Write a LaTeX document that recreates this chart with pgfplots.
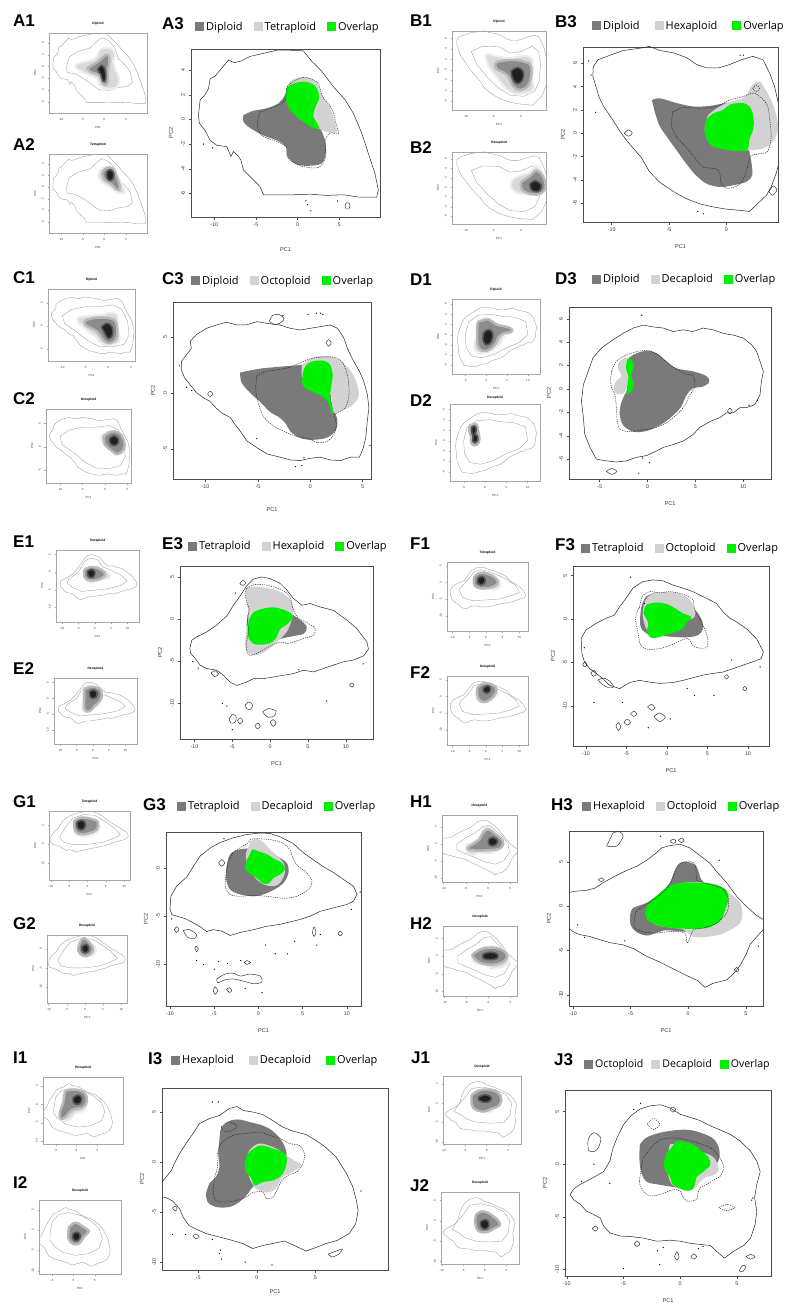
\documentclass[border=0pt]{standalone}
\usepackage{fontspec}
\setmainfont{Liberation Sans}
\newfontfamily\legfont{Open Sans}
\usepackage{pgfplots}
\usepackage{pgfplotstable}
\pgfplotsset{compat=1.18}
\definecolor{dk}{RGB}{122,122,122}
\definecolor{lt}{RGB}{210,210,210}
\definecolor{ov}{RGB}{0,240,0}
\tikzset{lab/.style={anchor=west, inner sep=0pt, font=\fontsize{17}{18}\selectfont\bfseries}}
\pgfplotsset{
  base/.style={scale only axis, anchor=north west, clip=true,
    /pgf/number format/assume math mode=true,
    tick align=outside, tick pos=left,
    yticklabel style={rotate=90, anchor=south},
    xlabel={PC1}, ylabel={PC2},
    xlabel style={at={(axis description cs:0.5,0)}, anchor=center},
    ylabel style={at={(axis description cs:0,0.5)}, anchor=center},
  },
  bigax/.style={base, axis line style={black!70, line width=0.6pt}, tick style={black!70, line width=0.4pt}, major tick length=2.5pt,
    tick label style={font=\fontsize{5.3}{6}\selectfont, black!80},
    label style={font=\fontsize{5.6}{6}\selectfont, black!80},
    ylabel style={yshift=20pt},
    legend columns=3, legend cell align=left,
    legend style={draw=none, fill=none, inner sep=0pt, font=\legfont\fontsize{11}{13}\selectfont, anchor=west, at={(axis description cs:0,1)}, /tikz/every even column/.append style={column sep=9pt}},
    legend image code/.code={\fill[##1] (0pt,-4.5pt) rectangle (9pt,4.5pt);},
  },
  smallax/.style={base, axis line style={black!35, line width=0.4pt}, tick style={black!35, line width=0.3pt}, major tick length=1.5pt,
    tick label style={font=\fontsize{3}{3.5}\selectfont, black!75},
    label style={font=\fontsize{3}{3.5}\selectfont, black!80},
    title style={font=\bfseries\fontsize{3.3}{4}\selectfont, yshift=-2pt},
    xlabel style={yshift=-14pt}, ylabel style={yshift=14pt},
  },
  outl/.style={draw=black!85, line width=0.5pt, forget plot},
  isl/.style={draw=black!85, line width=0.45pt, smooth, forget plot},
  dsh/.style={draw=black!85, line width=0.45pt, dash pattern=on 1.3pt off 1pt, smooth, forget plot},
  pts/.style={only marks, mark=*, mark size=0.35pt, black, forget plot},
  rdk/.style={fill=dk, draw=none, smooth, tension=0.55},
  rlt/.style={fill=lt, draw=none, smooth, tension=0.55},
  rov/.style={fill=ov, draw=none, smooth, tension=0.55},
  souter/.style={draw=black!35, line width=0.4pt},
  bl1/.style={fill=black!15, draw=black!7, line width=2pt, smooth, tension=0.6},
  bl2/.style={fill=black!45, draw=black!28, line width=2.4pt, smooth, tension=0.7},
  bl3/.style={fill=black!88, draw=black!66, line width=1.6pt, smooth, tension=0.7},
  rngA/.style={xmin=-12.8,xmax=9.9,ymin=-7.9,ymax=5.7,xtick={-10,-5,0,5},ytick={-6,-4,-2,0,2,4}},
  rngB/.style={xmin=-12.5,xmax=4.5,ymin=-7.6,ymax=7.4,xtick={-10,-5,0},ytick={-6,-4,-2,0,2,4,6}},
  rngC/.style={xmin=-13.1,xmax=5.8,ymin=-7.7,ymax=8.1,xtick={-10,-5,0,5},ytick={-5,0,5}},
  rngD/.style={xmin=-8.2,xmax=12.9,ymin=-7.7,ymax=7.0,xtick={-5,0,5,10},ytick={-6,-4,-2,0,2,4,6}},
  rngE/.style={xmin=-11.9,xmax=13.6,ymin=-14.2,ymax=6.3,xtick={-10,-5,0,5,10},ytick={-10,-5,0,5}},
  rngF/.style={xmin=-11.6,xmax=12.6,ymin=-14.6,ymax=6.1,xtick={-10,-5,0,5,10},ytick={-10,-5,0,5}},
  rngG/.style={xmin=-10.45,xmax=11.6,ymin=-14.3,ymax=3.7,xtick={-10,-5,0,5,10},ytick={-10,-5,0}},
  rngH/.style={xmin=-10.35,xmax=6.5,ymin=-11.25,ymax=8.5,xtick={-10,-5,0,5},ytick={-10,-5,0,5}},
  rngI/.style={xmin=-8.1,xmax=11.2,ymin=-10.8,ymax=7.4,xtick={-5,0,5},ytick={-10,-5,0,5}},
  rngJ/.style={xmin=-10.15,xmax=8.0,ymin=-10.6,ymax=7.05,xtick={-10,-5,0,5},ytick={-10,-5,0,5}},
}
% ---------------- tables: outer contour (o), inner contour (i), region 1 (d), region 2 (l)
\pgfplotstableread[row sep=\\]{x y\\ -11.9 0.35\\ -11.7 1.6\\ -11.2 1.9\\ -10.7 2.5\\ -10.5 3.3\\ -9.9 3.5\\ -9.3 4.0\\ -8.3 4.8\\ -7.6 4.6\\ -6.9 4.7\\ -5.7 5.1\\ -4.1 5.35\\ -2.5 5.6\\ -0.9 5.6\\ 0.7 5.55\\ 1.7 4.7\\ 2.9 3.9\\ 4.3 2.65\\ 5.7 1.6\\ 6.7 0.5\\ 7.7 -1.1\\ 8.5 -2.75\\ 9.3 -4.4\\ 9.7 -5.7\\ 9.5 -6.3\\ 7.5 -6.3\\ 5.5 -6.1\\ 3.5 -6.15\\ 1.5 -6.05\\ -0.5 -6.1\\ -2.5 -6.1\\ -4.1 -6.1\\ -4.5 -5.45\\ -5.3 -4.9\\ -6.5 -4.1\\ -6.8 -3.3\\ -7.1 -3.0\\ -7.7 -2.6\\ -8.0 -3.0\\ -8.5 -2.2\\ -9.7 -2.1\\ -10.5 -1.7\\ -11.1 -0.9\\ -11.8 -0.3\\ -11.9 0.35\\}\oA
\pgfplotstableread[row sep=\\]{x y\\ -8.9 -0.4\\ -8.1 1.65\\ -6.1 2.55\\ -3.25 3.15\\ -1.2 4.6\\ -0.4 4.9\\ 1.2 4.3\\ 2.45 3.15\\ 3.25 1.35\\ 4.9 0.2\\ 6.1 -1.0\\ 6.5 -2.75\\ 5.3 -3.35\\ 2.85 -3.65\\ 1.2 -4.05\\ -1.2 -3.95\\ -2.85 -3.05\\ -4.45 -2.2\\ -6.5 -1.3\\ -8.5 -1.0\\ -8.9 -0.4\\}\iA
\pgfplotstableread[row sep=\\]{x y\\ -6.5 0.35\\ -5.3 0.7\\ -3.7 0.9\\ -2.3 1.3\\ -1.5 2.0\\ -1.1 2.8\\ 0.3 3.2\\ 1.9 2.9\\ 2.5 1.85\\ 2.1 1.0\\ 2.3 0.1\\ 2.8 -0.8\\ 3.3 -1.7\\ 3.4 -2.75\\ 2.9 -3.55\\ 1.5 -3.75\\ -0.1 -3.65\\ -1.2 -3.0\\ -1.4 -2.2\\ -2.5 -1.7\\ -4.1 -1.3\\ -5.7 -0.7\\ -6.5 -0.2\\ -6.5 0.35\\}\dA
\pgfplotstableread[row sep=\\]{x y\\ -1.4 1.85\\ -0.9 3.05\\ 0.7 3.45\\ 2.3 3.0\\ 2.9 2.0\\ 3.9 1.0\\ 4.4 -0.05\\ 4.7 -1.0\\ 3.7 -1.05\\ 2.6 -0.75\\ 1.7 -0.2\\ 0.5 0.35\\ -0.7 0.9\\ -1.4 1.85\\}\lA
%
\pgfplotstableread[row sep=\\]{x y\\ -11.6 5.7\\ -11.2 6.3\\ -10.4 6.6\\ -9.0 7.1\\ -7.5 7.3\\ -6.7 7.45\\ -5.8 7.1\\ -4.6 6.9\\ -3.5 6.5\\ -2.6 5.9\\ -1.7 5.6\\ -0.7 5.6\\ 0.3 5.9\\ 1.3 6.3\\ 2.3 6.6\\ 3.2 6.3\\ 3.8 5.1\\ 4.2 4.0\\ 4.6 2.3\\ 4.9 -1.4\\ 4.35 -3.4\\ 3.9 -4.6\\ 3.5 -5.3\\ 2.75 -6.0\\ 2.0 -6.7\\ 1.2 -6.6\\ 0 -6.5\\ -1.2 -6.3\\ -2.3 -6.05\\ -3.5 -5.6\\ -4.6 -5.0\\ -5.8 -4.2\\ -6.7 -3.3\\ -7.4 -2.1\\ -8.1 -1.3\\ -8.7 -0.6\\ -9.3 0.2\\ -10.0 1.3\\ -10.7 2.3\\ -11.1 3.1\\ -11.4 4.1\\ -11.65 4.9\\ -11.6 5.7\\}\oB
\pgfplotstableread[row sep=\\]{x y\\ -9 3.5\\ -7 4.5\\ -4 4.4\\ -2 3.2\\ 0 3.5\\ 2 4.5\\ 3.2 3.5\\ 3.5 1\\ 3.3 -2\\ 2.5 -4\\ 0.5 -5\\ -2 -4.8\\ -4 -3.5\\ -6 -1.5\\ -8 1\\ -9 3.5\\}\iB
\pgfplotstableread[row sep=\\]{x y\\ -6.5 2.85\\ -5.8 3.0\\ -4.35 2.6\\ -2.9 2.3\\ -1.45 2.35\\ 0 2.6\\ 1.15 2.6\\ 2.0 2.0\\ 2.2 0\\ 2.0 -1.4\\ 2.2 -2.6\\ 2.25 -3.6\\ 1.75 -4.15\\ 0.6 -4.45\\ -0.6 -4.6\\ -1.75 -4.3\\ -2.75 -3.5\\ -3.5 -2.6\\ -4.2 -1.65\\ -5.0 -0.55\\ -5.8 0.6\\ -6.2 1.7\\ -6.5 2.85\\}\dB
\pgfplotstableread[row sep=\\]{x y\\ -1.6 1.55\\ -0.85 2.15\\ 0.3 2.7\\ 1.45 3.0\\ 1.9 3.55\\ 2.3 4.2\\ 2.9 4.45\\ 3.35 3.85\\ 3.9 2.85\\ 4.35 1.55\\ 4.5 0.3\\ 4.05 -0.7\\ 3.2 -1.3\\ 2.0 -1.45\\ 0.85 -1.45\\ -0.6 -1.15\\ -1.45 -0.55\\ -1.9 0.3\\ -1.6 1.55\\}\lB
%
\pgfplotstableread[row sep=\\]{x y\\ -12.3 2.8\\ -11.8 3.4\\ -11.35 3.95\\ -11.45 4.6\\ -10.85 5.2\\ -9.9 5.75\\ -8.95 6.05\\ -8.0 6.3\\ -7.0 6.05\\ -6.1 6.05\\ -5.1 6.35\\ -4.15 6.2\\ -2.9 6.05\\ -1.9 5.75\\ -0.95 5.6\\ 0 5.75\\ 0.95 5.9\\ 1.9 6.05\\ 2.6 5.75\\ 3.2 4.9\\ 3.6 3.85\\ 4.15 2.8\\ 4.7 1.9\\ 5.1 1.05\\ 5.45 -0.15\\ 5.6 -1.35\\ 5.45 -2.5\\ 5.3 -4.0\\ 5.05 -4.95\\ 4.7 -5.75\\ 3.85 -5.75\\ 2.9 -6.05\\ 1.9 -6.0\\ 0.95 -5.75\\ 0 -5.85\\ -0.95 -6.05\\ -1.9 -6.0\\ -2.9 -5.75\\ -4.15 -5.45\\ -5.1 -4.9\\ -6.05 -4.3\\ -6.7 -3.4\\ -7.2 -2.8\\ -7.65 -2.2\\ -8.45 -1.8\\ -9.0 -1.35\\ -9.6 -0.75\\ -10.2 -0.45\\ -10.85 0\\ -11.5 0.75\\ -12.0 1.35\\ -12.3 2.05\\ -12.3 2.8\\}\oC
\pgfplotstableread[row sep=\\]{x y\\ -10 2.2\\ -8 3.6\\ -5 4.2\\ -2 4.2\\ 1 4.6\\ 3 3.6\\ 4.2 1\\ 4.5 -2\\ 3.5 -4\\ 1 -4.6\\ -2 -4.5\\ -4.5 -3.2\\ -7 -1.2\\ -9.5 0.5\\ -10 2.2\\}\iC
\pgfplotstableread[row sep=\\]{x y\\ -6.7 1.8\\ -4.8 2.15\\ -2.55 2.35\\ -0.8 2.5\\ 0 2.8\\ 0.95 2.85\\ 1.9 2.5\\ 2.15 1.6\\ 2.0 0.45\\ 2.0 -0.75\\ 2.3 -1.6\\ 2.6 -2.5\\ 2.4 -3.4\\ 1.6 -4.0\\ 0.3 -4.2\\ -0.95 -4.05\\ -1.9 -3.45\\ -2.3 -2.8\\ -2.95 -2.2\\ -3.85 -1.7\\ -4.8 -0.8\\ -5.75 0\\ -6.55 0.9\\ -6.7 1.8\\}\dC
\pgfplotstableread[row sep=\\]{x y\\ -0.8 2.5\\ 0.15 3.1\\ 1.45 3.3\\ 2.7 2.95\\ 3.65 2.2\\ 4.3 1.2\\ 4.65 0\\ 4.4 -0.75\\ 3.65 -1.35\\ 2.7 -1.7\\ 2.25 -1.8\\ 2.1 -1.05\\ 1.9 -0.15\\ 0.65 0\\ -0.3 0.6\\ -0.8 1.5\\ -0.8 2.5\\}\lC
%
\pgfplotstableread[row sep=\\]{x y\\ -6.7 -2.45\\ -6.9 -1.05\\ -6.7 0.35\\ -6.2 1.5\\ -5.7 2.65\\ -4.8 3.5\\ -3.6 4.2\\ -2.55 4.75\\ -1.5 5.2\\ -0.45 5.45\\ 0.6 5.3\\ 1.65 5.2\\ 2.7 4.9\\ 3.75 5.05\\ 4.75 4.9\\ 5.8 5.2\\ 6.85 5.05\\ 7.9 4.75\\ 8.95 4.6\\ 10.0 4.35\\ 10.9 3.75\\ 11.4 3.2\\ 11.75 2.35\\ 12.1 1.5\\ 11.9 0.65\\ 11.75 -0.5\\ 11.2 -1.35\\ 10.35 -1.6\\ 9.65 -1.6\\ 8.95 -2.05\\ 8.25 -2.05\\ 7.55 -2.45\\ 6.5 -2.8\\ 5.45 -3.3\\ 4.75 -3.9\\ 3.75 -4.45\\ 2.7 -4.75\\ 1.65 -5.0\\ 0.95 -5.3\\ -0.1 -5.7\\ -1.15 -5.85\\ -2.2 -6.15\\ -3.25 -6.25\\ -4.3 -6.15\\ -5.35 -6.0\\ -6.0 -5.0\\ -6.55 -3.9\\ -6.7 -2.45\\}\oD
\pgfplotstableread[row sep=\\]{x y\\ -5 0\\ -4.2 2.5\\ -2 3.8\\ 1 4\\ 4 3.6\\ 7 3.4\\ 9.5 2.6\\ 10 0\\ 8 -1.5\\ 5 -2.5\\ 2 -3.8\\ -1 -4.5\\ -3.5 -4.2\\ -4.8 -2.5\\ -5 0\\}\iD
\pgfplotstableread[row sep=\\]{x y\\ -2.2 2.5\\ -1.5 2.9\\ -0.8 3.15\\ 0.05 3.25\\ 0.95 3.05\\ 2.0 2.35\\ 3.05 1.75\\ 4.75 1.5\\ 6.15 1.1\\ 6.45 0.6\\ 5.8 0.2\\ 4.75 0.05\\ 4.1 -0.5\\ 3.45 -1.6\\ 2.35 -2.5\\ 1.3 -3.1\\ -0.1 -3.6\\ -1.5 -3.65\\ -2.55 -3.1\\ -2.9 -2.2\\ -2.8 -1.35\\ -2.45 -0.6\\ -2.0 0.1\\ -2.0 0.95\\ -2.25 1.8\\ -2.2 2.5\\}\dD
\pgfplotstableread[row sep=\\]{x y\\ -2.7 2.5\\ -2.0 2.65\\ -1.8 1.8\\ -1.9 0.95\\ -2.2 0.1\\ -2.55 -0.4\\ -3.3 -0.4\\ -3.5 0.1\\ -3.3 0.65\\ -2.7 1.1\\ -3.05 1.65\\ -3.05 2.2\\ -2.7 2.5\\}\lD
%
\pgfplotstableread[row sep=\\]{x y\\ -10.6 -3.5\\ -10.35 -2.5\\ -9.7 -2.1\\ -8.35 -1.5\\ -7.05 -0.7\\ -5.7 0.4\\ -4.85 1.65\\ -3.95 2.75\\ -3.1 3.95\\ -2.2 4.75\\ -1.1 5.0\\ 0 4.8\\ 1.3 4.25\\ 2.2 3.45\\ 3.1 2.45\\ 4.2 1.65\\ 5.3 1.85\\ 6.6 1.45\\ 8.35 1.05\\ 10.15 -0.1\\ 11.45 -1.1\\ 12.8 -2.7\\ 13.0 -3.55\\ 12.35 -4.35\\ 11.0 -4.85\\ 9.7 -5.05\\ 8.35 -5.45\\ 7.05 -5.85\\ 5.75 -6.25\\ 4.4 -6.05\\ 3.1 -6.45\\ 1.75 -6.65\\ 0.45 -6.85\\ -0.9 -7.05\\ -2.2 -7.05\\ -3.1 -7.45\\ -4.4 -7.85\\ -5.3 -7.45\\ -6.15 -6.65\\ -7.05 -6.05\\ -8.35 -5.85\\ -9.25 -5.45\\ -9.9 -4.65\\ -10.5 -4.05\\ -10.6 -3.5\\}\oE
\pgfplotstableread[row sep=\\]{x y\\ -8 -2\\ -5 0\\ -3.2 3\\ -1.5 4\\ 0.8 3.6\\ 2.5 1.5\\ 5 0.5\\ 8 -0.8\\ 10 -2.5\\ 8 -3.8\\ 5 -4.5\\ 2 -5\\ -1 -5.2\\ -4 -5.5\\ -6.5 -4.5\\ -8.5 -3.2\\ -8 -2\\}\iE
\pgfplotstableread[row sep=\\]{x y\\ -2.85 0.85\\ -1.75 1.35\\ 0 1.45\\ 1.75 1.2\\ 3.1 0.45\\ 4.2 -0.25\\ 4.85 -0.9\\ 4.5 -1.7\\ 3.1 -2.0\\ 1.3 -2.35\\ -0.45 -2.9\\ -2.0 -2.9\\ -2.85 -2.1\\ -3.1 -0.7\\ -2.85 0.85\\}\dE
\pgfplotstableread[row sep=\\]{x y\\ -3.1 3.65\\ -2.2 3.85\\ -0.45 3.7\\ 1.3 3.25\\ 2.65 2.35\\ 3.1 1.2\\ 2.85 -0.1\\ 2.2 -1.5\\ 0.9 -2.7\\ -0.45 -3.7\\ -1.75 -4.25\\ -2.85 -4.05\\ -3.3 -3.1\\ -3.15 -1.5\\ -2.85 0.1\\ -3.0 1.65\\ -3.25 3.05\\ -3.1 3.65\\}\lE
%
\pgfplotstableread[row sep=\\]{x y\\ -10.6 -2.25\\ -10.0 -1.25\\ -8.75 -0.5\\ -7.5 0.1\\ -6.5 0.45\\ -5.85 1.4\\ -5.05 2.4\\ -4.2 3.55\\ -3.0 4.3\\ -1.75 4.5\\ -0.5 4.4\\ 0.75 3.9\\ 2.0 3.55\\ 3.2 3.15\\ 4.85 2.4\\ 6.1 1.8\\ 6.9 0.85\\ 7.75 0.1\\ 8.55 -0.3\\ 9.8 -1.1\\ 11.05 -2.25\\ 11.9 -3.75\\ 11.65 -4.55\\ 10.65 -4.9\\ 9.4 -5.3\\ 8.15 -5.7\\ 6.9 -6.1\\ 5.7 -6.25\\ 4.45 -6.45\\ 3.2 -6.75\\ 2.0 -7.05\\ 0.75 -7.3\\ -0.9 -7.4\\ -2.15 -7.25\\ -3.4 -7.05\\ -4.6 -7.3\\ -5.85 -8.0\\ -7.1 -7.6\\ -7.9 -6.85\\ -8.75 -6.25\\ -9.55 -5.7\\ -10.2 -4.9\\ -10.5 -3.95\\ -10.6 -2.25\\}\oF
\pgfplotstableread[row sep=\\]{x y\\ -8 -2\\ -5.5 0.5\\ -3.5 3.2\\ -1.5 3.8\\ 1 3.2\\ 3.5 2.2\\ 6 1\\ 9 -1\\ 10 -3\\ 7 -4.2\\ 4 -5\\ 0 -5.3\\ -4 -5.5\\ -7 -4.5\\ -8 -2\\}\iF
\pgfplotstableread[row sep=\\]{x y\\ -3.2 1.25\\ -2.55 2.6\\ -0.9 3.05\\ 1.15 2.85\\ 2.4 2.1\\ 3.4 1.15\\ 4.25 0\\ 4.45 -1.1\\ 3.85 -1.85\\ 2.4 -2.1\\ 0.75 -2.05\\ -0.9 -1.9\\ -2.55 -1.65\\ -3.3 -0.7\\ -3.2 1.25\\}\dF
\pgfplotstableread[row sep=\\]{x y\\ -2.75 2.0\\ -2.15 2.7\\ -0.9 3.1\\ 1.15 3.0\\ 2.6 2.4\\ 3.4 1.3\\ 3.4 0.25\\ 2.4 -0.2\\ 1.5 -0.9\\ 0 -1.4\\ -1.5 -1.6\\ -2.5 -1.2\\ -3.0 0.5\\ -2.75 2.0\\}\lF
%
\pgfplotstableread[row sep=\\]{x y\\ -10.0 -4.25\\ -9.9 -2.95\\ -9.25 -1.9\\ -8.1 -0.95\\ -7.35 0.15\\ -6.6 1.2\\ -5.45 2.05\\ -4.35 2.6\\ -2.85 3.1\\ -1.3 3.45\\ 0.2 3.6\\ 1.3 3.55\\ 2.45 3.2\\ 3.95 2.5\\ 5.1 1.55\\ 6.25 0.8\\ 7.35 0.1\\ 8.5 -0.5\\ 9.6 -1.2\\ 10.75 -1.9\\ 11.15 -2.75\\ 10.75 -3.45\\ 10.0 -3.8\\ 8.5 -4.15\\ 7.0 -4.5\\ 5.85 -5.0\\ 4.7 -5.35\\ 3.6 -5.6\\ 2.45 -5.85\\ 0.95 -6.05\\ -0.55 -6.4\\ -2.1 -6.7\\ -3.2 -7.0\\ -4.15 -6.55\\ -5.1 -6.4\\ -5.85 -6.6\\ -6.6 -6.1\\ -7.35 -5.7\\ -8.3 -5.25\\ -9.25 -5.0\\ -9.8 -4.85\\ -10.0 -4.25\\}\oG
\pgfplotstableread[row sep=\\]{x y\\ -7.5 -3\\ -6 -0.5\\ -4 1.8\\ -1 2.8\\ 2 2.6\\ 4.5 1.2\\ 7 -0.5\\ 9 -2.5\\ 7 -3.5\\ 4 -4.5\\ 0 -5\\ -4 -5\\ -6.5 -4.5\\ -7.5 -3\\}\iG
\pgfplotstableread[row sep=\\]{x y\\ -3.6 0.15\\ -3.2 1.4\\ -2.1 1.9\\ -0.55 2.0\\ 0.95 1.8\\ 2.1 1.2\\ 3.2 0.5\\ 3.4 -0.5\\ 2.85 -1.55\\ 1.7 -2.3\\ 0.55 -2.75\\ -0.55 -2.95\\ -2.1 -2.75\\ -3.2 -2.25\\ -3.65 -1.2\\ -3.6 0.15\\}\dG
\pgfplotstableread[row sep=\\]{x y\\ -1.15 2.05\\ -0.85 2.75\\ -0.2 3.0\\ 0.55 2.65\\ 1.3 1.9\\ 2.15 1.2\\ 2.85 0.5\\ 3.0 -0.5\\ 2.45 -1.55\\ 1.7 -1.9\\ 0.55 -1.7\\ -0.55 -0.85\\ -1.3 0.5\\ -1.4 1.55\\ -1.15 2.05\\}\lG
%
\pgfplotstableread[row sep=\\]{x y\\ -10.6 1.5\\ -9.85 1.7\\ -8.85 1.8\\ -8.1 2.05\\ -7.4 2.65\\ -6.5 3.3\\ -5.35 4.05\\ -4.5 4.5\\ -3.6 5.2\\ -2.75 6.05\\ -2.3 6.6\\ -1.6 6.85\\ -0.7 7.0\\ 0.15 6.6\\ 0.7 6.05\\ 1.3 5.45\\ 1.9 4.85\\ 2.45 3.95\\ 3.35 2.65\\ 4.2 1.15\\ 5.05 0\\ 5.95 -1.05\\ 6.8 -1.7\\ 6.5 -2.65\\ 5.95 -3.45\\ 5.4 -4.25\\ 5.05 -5.35\\ 4.55 -6.6\\ 3.95 -7.6\\ 3.35 -8.3\\ 2.15 -8.7\\ 1.45 -9.15\\ 0.85 -8.4\\ -0.15 -7.8\\ -1.3 -7.05\\ -2.45 -6.3\\ -3.6 -5.65\\ -4.7 -4.8\\ -5.65 -4.35\\ -6.8 -4.1\\ -7.7 -3.75\\ -8.55 -3.4\\ -9.4 -3.2\\ -10.0 -2.85\\ -10.6 -2.25\\}\oH
\pgfplotstableread[row sep=\\]{x y\\ -7 0\\ -5 1.8\\ -3 3.2\\ -1 5.2\\ 0.5 5.5\\ 1.5 4\\ 3 2.5\\ 4.5 0\\ 4.8 -2.5\\ 3.5 -5\\ 1.5 -6\\ -1 -5.2\\ -3 -4\\ -5 -3\\ -7 -1.8\\ -7 0\\}\iH
\pgfplotstableread[row sep=\\]{x y\\ -5.05 -1.15\\ -4.8 -0.2\\ -3.6 0.4\\ -2.45 1.5\\ -1.6 2.65\\ -1.15 4.1\\ -0.7 4.9\\ 0 5.0\\ 0.7 4.55\\ 1.15 3.0\\ 1.75 2.25\\ 2.3 1.5\\ 3.05 1.05\\ 3.35 0.3\\ 3.05 -0.75\\ 2.15 -1.9\\ 1.0 -2.65\\ -0.45 -2.85\\ -1.9 -2.7\\ -2.75 -3.0\\ -3.6 -3.3\\ -4.5 -2.9\\ -5.0 -2.1\\ -5.05 -1.15\\}\dH
\pgfplotstableread[row sep=\\]{x y\\ -3.6 -0.4\\ -2.75 1.15\\ -1.6 2.25\\ -0.15 2.7\\ 1.6 2.7\\ 2.9 2.25\\ 3.6 1.5\\ 4.5 0.4\\ 4.7 -0.75\\ 4.5 -1.9\\ 3.6 -2.7\\ 2.75 -3.2\\ 1.6 -3.45\\ 0.45 -3.45\\ -0.45 -2.6\\ -1.6 -2.4\\ -2.75 -2.1\\ -3.55 -1.4\\ -3.6 -0.4\\}\lH
%
\pgfplotstableread[row sep=\\]{x y\\ -8.3 -2.3\\ -7.75 -1.5\\ -7.3 -0.85\\ -7.05 -0.15\\ -6.6 0.85\\ -6.05 1.85\\ -5.45 2.85\\ -4.9 3.85\\ -4.05 4.35\\ -3.2 4.65\\ -2.35 5.35\\ -1.7 5.55\\ -1.15 5.15\\ -0.35 5.0\\ 0.5 4.75\\ 1.35 4.15\\ 2.2 3.5\\ 3.05 3.1\\ 4.2 2.75\\ 5.05 2.15\\ 5.9 1.45\\ 6.8 0.45\\ 7.65 -1.15\\ 8.2 -2.5\\ 8.5 -3.85\\ 8.65 -4.85\\ 8.45 -6.15\\ 7.9 -7.15\\ 6.85 -7.85\\ 5.9 -8.15\\ 5.05 -8.55\\ 4.2 -8.9\\ 3.2 -8.35\\ 2.35 -7.9\\ 1.35 -8.15\\ 0.5 -8.35\\ -0.35 -8.65\\ -1.2 -8.15\\ -2.05 -7.85\\ -3.2 -7.5\\ -4.35 -7.15\\ -5.2 -6.7\\ -5.8 -6.35\\ -6.3 -5.5\\ -6.6 -4.65\\ -7.2 -3.9\\ -7.75 -3.55\\ -8.3 -3.45\\}\oI
\pgfplotstableread[row sep=\\]{x y\\ -5.5 -1\\ -5 2\\ -3.5 3.8\\ -1 4.3\\ 2 3.5\\ 4 2.3\\ 6 0.5\\ 6.8 -2\\ 6 -4.5\\ 3.5 -5.8\\ 0.5 -6.2\\ -2.5 -5.5\\ -4.5 -4\\ -5.5 -2.5\\ -5.5 -1\\}\iI
\pgfplotstableread[row sep=\\]{x y\\ -4.35 -3.15\\ -4.05 -2.15\\ -3.5 -1.5\\ -3.2 -0.5\\ -3.3 0.85\\ -3.2 2.15\\ -3.05 3.35\\ -2.35 4.1\\ -1.5 4.25\\ -0.65 4.0\\ 0.5 3.65\\ 1.35 3.1\\ 2.1 2.15\\ 2.5 1.1\\ 2.5 -0.15\\ 1.95 -1.5\\ 0.8 -2.15\\ -0.3 -2.45\\ -0.75 -3.15\\ -1.5 -4.0\\ -2.35 -4.5\\ -3.5 -4.5\\ -4.2 -4.0\\ -4.35 -3.15\\}\dI
\pgfplotstableread[row sep=\\]{x y\\ -0.9 0.15\\ -0.65 1.15\\ 0.25 1.85\\ 1.65 1.35\\ 2.55 0.65\\ 3.2 0.15\\ 3.8 -0.35\\ 3.05 -1.0\\ 2.2 -1.5\\ 1.8 -2.35\\ 1.35 -2.9\\ 0.65 -3.05\\ 0 -2.75\\ -0.4 -2.15\\ -0.75 -1.15\\ -0.9 0.15\\}\lI
%
\pgfplotstableread[row sep=\\]{x y\\ -9.7 -2.85\\ -9.35 -2.3\\ -8.8 -1.9\\ -8.25 -1.6\\ -7.65 -1.25\\ -6.75 -0.7\\ -6.2 0.3\\ -5.9 1.6\\ -5.55 2.55\\ -5.0 3.75\\ -4.35 4.6\\ -3.55 5.25\\ -2.65 5.55\\ -1.75 5.65\\ -0.9 5.35\\ 0 4.75\\ 0.9 4.45\\ 1.75 4.15\\ 2.65 3.65\\ 3.55 3.25\\ 4.4 2.85\\ 5.3 2.2\\ 6.2 1.25\\ 6.75 0.3\\ 7.05 -0.7\\ 6.75 -1.9\\ 6.55 -3.15\\ 6.75 -4.45\\ 6.6 -5.7\\ 6.2 -7.0\\ 5.6 -7.7\\ 4.7 -8.25\\ 3.9 -8.9\\ 3.25 -8.3\\ 2.65 -7.7\\ 1.75 -7.6\\ 0.9 -7.5\\ 0 -7.3\\ -0.9 -7.2\\ -2.05 -7.3\\ -3.25 -7.0\\ -4.4 -6.85\\ -5.3 -6.8\\ -6.2 -6.5\\ -6.75 -5.85\\ -7.05 -5.1\\ -7.65 -4.75\\ -8.25 -4.45\\ -8.8 -3.8\\ -9.4 -3.35\\ -9.7 -2.85\\}\oJ
\pgfplotstableread[row sep=\\]{x y\\ -7 -1\\ -5 1.5\\ -3.5 3.8\\ -1 4.2\\ 2 3.5\\ 4.5 2.2\\ 5.8 0\\ 5.5 -3\\ 4 -5\\ 1 -5.2\\ -2 -5\\ -4.5 -4.2\\ -6 -3\\ -7.5 -2.2\\ -7 -1\\}\iJ
\pgfplotstableread[row sep=\\]{x y\\ -3.55 1.9\\ -2.95 2.55\\ -1.75 3.0\\ -0.3 3.25\\ 0.9 3.25\\ 2.05 2.9\\ 2.95 2.4\\ 3.4 1.6\\ 3.45 0.65\\ 3.1 -0.15\\ 2.5 -0.55\\ 1.75 -1.25\\ 1.2 -2.05\\ 0.3 -2.3\\ -0.6 -2.15\\ -1.75 -1.95\\ -2.95 -1.65\\ -3.45 -0.7\\ -3.6 0.65\\ -3.55 1.9\\}\dJ
\pgfplotstableread[row sep=\\]{x y\\ -0.9 1.9\\ 0.3 1.9\\ 1.75 1.25\\ 2.95 0.65\\ 3.4 -0.5\\ 2.95 -1.0\\ 2.05 -1.35\\ 1.3 -2.2\\ 0.6 -2.5\\ -0.3 -2.2\\ -0.9 -1.6\\ -1.2 0\\ -0.9 1.9\\}\lJ

\newcommand{\smallpanel}[6]{%
\begin{axis}[smallax,#1]
\addplot[souter] table {#2};
\addplot[souter] table {#3};
\addplot[bl1] table {#4};
\addplot[bl2] coordinates {#5};
\addplot[bl3] coordinates {#6};
\end{axis}}

\begin{document}
\begin{tikzpicture}
\useasboundingbox (0pt,0pt) rectangle (786pt,-1305pt);
% ===================== labels
\node[lab] at (13pt,-21pt) {A1};   \node[lab] at (13pt,-145pt) {A2};   \node[lab] at (162pt,-24pt) {A3};
\node[lab] at (410pt,-21pt) {B1};  \node[lab] at (410pt,-148pt) {B2};  \node[lab] at (555pt,-22pt) {B3};
\node[lab] at (13pt,-278pt) {C1};  \node[lab] at (13pt,-399pt) {C2};   \node[lab] at (162pt,-279pt) {C3};
\node[lab] at (410pt,-280pt) {D1}; \node[lab] at (410pt,-401pt) {D2};  \node[lab] at (555pt,-279pt) {D3};
\node[lab] at (13pt,-542pt) {E1};  \node[lab] at (13pt,-669pt) {E2};   \node[lab] at (162pt,-544pt) {E3};
\node[lab] at (410pt,-544pt) {F1}; \node[lab] at (410pt,-673pt) {F2};  \node[lab] at (555pt,-545pt) {F3};
\node[lab] at (13pt,-802pt) {G1};  \node[lab] at (13pt,-924pt) {G2};   \node[lab] at (143pt,-805pt) {G3};
\node[lab] at (410pt,-802pt) {H1}; \node[lab] at (410pt,-924pt) {H2};  \node[lab] at (551pt,-805pt) {H3};
\node[lab] at (13pt,-1058pt) {I1}; \node[lab] at (13pt,-1183pt) {I2};  \node[lab] at (148pt,-1059pt) {I3};
\node[lab] at (411pt,-1058pt) {J1};\node[lab] at (410pt,-1186pt) {J2}; \node[lab] at (554pt,-1060pt) {J3};

% ===================== A
\smallpanel{at={(49pt,-33pt)},width=98pt,height=80pt,rngA,title={Diploid}}{\oA}{\iA}{\dA}
 {(-4,-0.3) (-1.5,0.8) (0.5,2.0) (1.2,1.2) (0.8,-1) (0.8,-2.8) (-0.3,-3) (-1.2,-1.5) (-3,-1) (-4,-0.3)}
 {(-1.6,-0.5) (-0.6,0.2) (0.2,-0.6) (0.3,-2.2) (-0.3,-2.5) (-0.8,-1.4) (-1.6,-0.5)}
\smallpanel{at={(49pt,-154pt)},width=98pt,height=79pt,rngA,title={Tetraploid}}{\oA}{\iA}{\lA}
 {(-0.5,2.4) (0.5,3.3) (2.0,3.2) (2.8,2.0) (3.6,0.0) (3.0,-0.5) (1.5,0.6) (0,1.3) (-0.5,2.4)}
 {(0.6,2.6) (1.4,3.0) (2.2,2.4) (2.0,1.4) (1.2,1.1) (0.6,1.7) (0.6,2.6)}
\begin{axis}[bigax,rngA,at={(191pt,-49pt)},width=189pt,height=168pt,legend style={xshift=4pt,yshift=22pt},xlabel style={yshift=-33pt}]
\addplot[rdk] table {\dA}; \addlegendentry{Diploid}
\addplot[rlt] table {\lA}; \addlegendentry{Tetraploid}
\addplot[rov] coordinates {(-1.4,1.55) (-1.3,2.5) (-0.5,2.9) (0.9,3.05) (2.1,2.7) (2.6,1.8) (2.1,0.95) (1.9,0.25) (2.4,-0.4) (2.6,-0.8) (1.5,-0.55) (0.3,0.0) (-0.9,0.75) (-1.4,1.55)}; \addlegendentry{Overlap}
\addplot[dsh] coordinates {(-4.5,0.6) (-2.9,1.0) (-1.5,1.55) (-1.2,2.7) (0.7,3.4) (2.4,3.0) (3.0,1.85) (4.1,0.9) (4.6,-0.3) (4.9,-1.15) (3.9,-1.1) (3.3,-1.7) (3.4,-3.0) (2.5,-3.9) (0.3,-3.75) (-1.2,-3.1) (-1.4,-2.2) (-2.9,-1.7) (-4.3,-1.3) (-4.8,-0.55) (-4.7,0.2) (-4.5,0.6)};
\addplot[outl] table {\oA};
\addplot[isl] coordinates {(5.7,-7.0) (5.85,-6.75) (6.15,-6.75) (6.3,-7.0) (6.15,-7.25) (5.85,-7.25) (5.7,-7.0)};
\addplot[pts] coordinates {(-11.3,-2.0) (-10.2,-2.3) (1.0,-6.6) (1.2,-6.9) (1.6,-7.4) (4.8,-6.6)};
\end{axis}

% ===================== B
\smallpanel{at={(452pt,-31pt)},width=94pt,height=79pt,rngB,title={Diploid}}{\oB}{\iB}{\dB}
 {(-4.5,1.5) (-2,1.9) (0.5,1.6) (1.8,0.6) (1.5,-2.5) (0,-3.8) (-1.5,-3.0) (-2.5,-1.0) (-4.5,0.3) (-4.5,1.5)}
 {(-1.8,-0.2) (-0.6,0.5) (0.4,-0.4) (0.2,-2.0) (-0.8,-2.6) (-1.6,-1.5) (-1.8,-0.2)}
\smallpanel{at={(452pt,-152pt)},width=94pt,height=72pt,rngB,title={Hexaploid}}{\oB}{\iB}{\lB}
 {(0,1.2) (1.5,2.3) (2.8,3.5) (4,2.2) (4.4,0) (3.5,-1.3) (2,-1.4) (0.2,-0.5) (0,1.2)}
 {(1.6,0.8) (2.6,1.4) (3.6,0.6) (3.4,-0.6) (2.4,-0.8) (1.7,-0.2) (1.6,0.8)}
\begin{axis}[bigax,rngB,at={(583pt,-47pt)},width=195pt,height=175pt,legend style={xshift=9pt,yshift=21pt,/tikz/every even column/.append style={column sep=13pt}},xlabel style={yshift=-25pt}]
\addplot[rdk] table {\dB}; \addlegendentry{Diploid}
\addplot[rlt] table {\lB}; \addlegendentry{Hexaploid}
\addplot[rov] coordinates {(-1.9,0.3) (-1.75,1.15) (-1.15,1.7) (-0.3,2.0) (0.3,2.45) (1.15,2.6) (1.75,2.5) (2.2,2.0) (2.4,1.0) (2.3,0.25) (2.0,-0.55) (1.8,-1.45) (0.6,-1.5) (-0.3,-1.35) (-1.15,-1.15) (-1.7,-0.55) (-1.9,0.3)}; \addlegendentry{Overlap}
\addplot[dsh] coordinates {(-4.65,1.85) (-3.75,2.2) (-2.0,2.15) (-0.85,2.3) (0.3,2.85) (1.45,3.15) (2.45,3.45) (3.5,2.55) (3.75,1.45) (3.9,-0.3) (3.6,-1.55) (2.9,-1.75) (2.1,-1.95) (1.9,-2.7) (1.45,-4.0) (0.85,-4.55) (0,-4.7) (-0.45,-4.3) (-0.7,-3.15) (-2.0,-2.9) (-2.45,-2.45) (-3.05,-1.75) (-3.6,-1.1) (-4.35,-0.3) (-4.8,0.7) (-4.65,1.85)};
\addplot[dsh] coordinates {(2.3,3.85) (2.6,4.15) (2.9,3.85) (2.6,3.55) (2.3,3.85)};
\addplot[outl] table {\oB};
\addplot[isl] coordinates {(-8.9,0) (-8.55,0.3) (-8.2,0.05) (-8.5,-0.25) (-8.9,0)};
\addplot[isl] coordinates {(3.7,-5.0) (4.1,-4.5) (4.4,-4.9) (4.0,-5.3) (3.7,-5.0)};
\addplot[pts] coordinates {(-11.8,5.0) (-12.0,6.2) (1.2,6.7) (1.5,6.7) (-2.5,-6.7) (-2.0,-6.9) (-11.4,1.8)};
\end{axis}

% ===================== C
\smallpanel{at={(48pt,-289pt)},width=87pt,height=72pt,rngC,title={Diploid}}{\oC}{\iC}{\dC}
 {(-5,1.2) (-2.5,1.8) (0.5,1.6) (1.8,0.5) (1.8,-2.5) (0.5,-3.8) (-1,-3.2) (-2.5,-1.2) (-5,0.2) (-5,1.2)}
 {(-1.5,-0.2) (-0.3,0.6) (0.8,-0.2) (0.9,-2.0) (0,-2.8) (-0.8,-1.6) (-1.5,-0.2)}
\smallpanel{at={(46pt,-409pt)},width=85pt,height=74pt,rngC,title={Octoploid}}{\oC}{\iC}{\lC}
 {(-0.3,2.2) (1.2,3.2) (3,3.1) (4.2,1.5) (4.2,-0.5) (2.8,-1.5) (1.5,-0.8) (0,0.5) (-0.3,2.2)}
 {(1.0,1.8) (2.0,2.4) (3.0,1.7) (2.8,0.6) (1.8,0.3) (1.1,0.9) (1.0,1.8)}
\begin{axis}[bigax,rngC,at={(173pt,-302pt)},width=198pt,height=177pt,legend style={xshift=18pt,yshift=21pt},xlabel style={yshift=-31pt}]
\addplot[rdk] table {\dC}; \addlegendentry{Diploid}
\addplot[rlt] table {\lC}; \addlegendentry{Octoploid}
\addplot[rov, tension=0.4] coordinates {(-0.8,1.0) (-0.6,2.15) (-0.15,2.65) (0.5,2.85) (1.3,2.85) (1.9,2.5) (2.15,1.6) (2.0,0.6) (1.9,-0.2) (2.0,-1.05) (2.25,-1.8) (2.0,-1.65) (1.65,-0.75) (1.1,-0.3) (0.15,0.1) (-0.6,0.5) (-0.8,1.0)}; \addlegendentry{Overlap}
\addplot[dsh] coordinates {(-5.1,1.5) (-4.15,1.9) (-2.25,2.2) (-0.65,2.8) (0.3,3.1) (1.6,3.2) (2.55,3.1) (3.2,2.5) (3.6,1.35) (3.7,-0.15) (3.35,-1.35) (2.55,-1.8) (2.3,-2.0) (2.5,-2.85) (2.25,-3.75) (1.6,-4.35) (0.65,-4.45) (-0.3,-4.05) (-1.3,-3.9) (-2.25,-3.55) (-3.45,-3.0) (-4.4,-2.2) (-4.9,-1.1) (-5.2,0.15) (-5.1,1.5)};
\addplot[outl] table {\oC};
\addplot[isl] coordinates {(-3.9,6.4) (-3.6,6.9) (-3.0,7.0) (-2.5,6.6) (-2.9,6.2) (-3.5,6.1) (-3.9,6.4)};
\addplot[isl] coordinates {(1.5,4.45) (1.75,4.75) (2.0,4.45) (1.75,4.15) (1.5,4.45)};
\addplot[isl] coordinates {(-9.8,-0.1) (-9.55,0.15) (-9.3,-0.1) (-9.55,-0.35) (-9.8,-0.1)};
\addplot[pts] coordinates {(-12.5,2.4) (-11.8,0.5) (-11.3,0.2) (-5.1,-4.1) (-0.6,-5.8) (-1.4,-6.6) (-0.8,-6.5) (5.7,-4.7) (-2.6,6.9) (-0.2,7.0) (0.6,7.1) (1.0,7.1) (1.2,7.0)};
\end{axis}

% ===================== D
\smallpanel{at={(452pt,-299pt)},width=88pt,height=75pt,rngD,title={Diploid}}{\oD}{\iD}{\dD}
 {(-2,2.5) (0.5,3) (2.5,2) (5.5,1.4) (6,0.6) (3.5,0) (2,-2) (0,-3.2) (-1.8,-2.5) (-2.2,0) (-2,2.5)}
 {(-0.6,0.4) (0.6,1.0) (1.6,0.2) (1.2,-1.4) (0,-2.0) (-0.8,-1.0) (-0.6,0.4)}
\smallpanel{at={(450pt,-404pt)},width=90pt,height=77pt,rngD,title={}}{\oD}{\iD}{\lD}
 {(-3.6,2.9) (-2.0,3.1) (-1.6,1.8) (-1.3,0.3) (-1.9,-0.8) (-3.1,-0.6) (-3.3,0.8) (-3.7,1.9) (-3.6,2.9)}
 {(-3.1,2.6) (-2.4,2.8) (-2.0,2.0) (-2.4,1.3) (-1.8,0.9) (-1.7,0.0) (-2.3,-0.4) (-2.9,-0.1) (-2.8,0.8) (-3.1,1.6) (-3.1,2.6)}
\begin{axis}[bigax,rngD,at={(569pt,-307pt)},width=202pt,height=172pt,legend style={xshift=23pt,yshift=28pt},xlabel style={yshift=-25pt}]
\addplot[rdk] table {\dD}; \addlegendentry{Diploid}
\addplot[rlt] table {\lD}; \addlegendentry{Decaploid}
\addplot[rov] coordinates {(-2.1,2.55) (-1.8,2.6) (-1.45,2.2) (-1.5,1.65) (-1.75,1.15) (-1.45,0.6) (-1.55,-0.05) (-2.0,-0.4) (-2.2,-0.35) (-2.1,0.35) (-2.0,1.05) (-2.25,1.8) (-2.1,2.55)}; \addlegendentry{Overlap}
\addplot[dsh] coordinates {(-3.75,1.5) (-3.25,2.35) (-2.2,2.9) (-0.8,3.25) (0.25,3.25) (1.3,2.8) (2.35,2.05) (3.75,1.35) (4.75,1.1) (4.95,0.2) (4.4,-0.55) (3.75,-1.6) (2.7,-2.45) (1.65,-3.05) (0.6,-3.35) (-0.45,-3.5) (-1.85,-3.65) (-2.9,-3.45) (-3.15,-2.75) (-3.25,-1.6) (-3.4,-0.5) (-3.75,0.1) (-3.85,0.8) (-3.75,1.5)};
\addplot[outl] table {\oD};
\addplot[isl] coordinates {(-4.3,-7.05) (-3.75,-6.8) (-3.2,-7.05) (-3.75,-7.3) (-4.3,-7.05)};
\addplot[isl] coordinates {(8.35,-1.9) (8.6,-1.65) (8.85,-1.9) (8.6,-2.15) (8.35,-1.9)};
\addplot[pts] coordinates {(-0.5,-5.9) (0.2,-6.3) (-0.9,-7.2) (10.6,-1.4) (11.5,-1.0) (-0.6,6.3)};
\end{axis}
\node[font=\bfseries\fontsize{3.3}{4}\selectfont] at (495pt,-398pt) {Decaploid};

% ===================== E
\smallpanel{at={(56pt,-550pt)},width=83pt,height=72pt,rngE,title={Tetraploid}}{\oE}{\iE}{\dE}
 {(-3.2,0.6) (-1.5,1.4) (0.8,1.2) (2.5,0.3) (3.2,-0.6) (2.0,-1.8) (-0.5,-2.4) (-2.5,-2.0) (-3.3,-0.8) (-3.2,0.6)}
 {(-2.2,0.3) (-1.0,0.8) (0,0.2) (-0.2,-1.2) (-1.2,-1.6) (-2.1,-0.9) (-2.2,0.3)}
\smallpanel{at={(54pt,-678pt)},width=83pt,height=66pt,rngE,title={Hexaploid}}{\oE}{\iE}{\lE}
 {(-2.5,2.8) (-0.5,3.6) (2,3.0) (2.8,1.0) (2.0,-1.0) (0.5,-2.5) (-1.0,-4.0) (-2.5,-3.5) (-2.6,-0.5) (-2.5,2.8)}
 {(-1.0,2.0) (0.2,2.6) (1.3,1.8) (1.0,0.3) (0,-0.1) (-0.9,0.7) (-1.0,2.0)}
\begin{axis}[bigax,rngE,at={(180pt,-566pt)},width=193pt,height=173pt,legend style={xshift=8pt,yshift=20pt},xlabel style={yshift=-25pt}]
\addplot[rdk] table {\dE}; \addlegendentry{Tetraploid}
\addplot[rlt] table {\lE}; \addlegendentry{Hexaploid}
\addplot[rov] coordinates {(-2.85,-0.3) (-2.2,0.8) (-0.9,1.25) (0.45,1.4) (2.0,1.05) (3.0,0.4) (2.4,-0.5) (1.3,-1.2) (0.9,-2.1) (0.2,-2.75) (-0.9,-3.0) (-2.2,-2.9) (-2.95,-1.9) (-2.85,-0.3)}; \addlegendentry{Overlap}
\addplot[dsh] coordinates {(-3.1,3.65) (-2.2,4.05) (-0.9,4.1) (0.9,3.7) (2.0,3.25) (2.65,2.55) (3.1,1.05) (3.75,0.1) (5.05,-0.5) (5.95,-1.1) (5.75,-1.9) (4.4,-2.3) (3.1,-2.7) (2.2,-2.9) (1.3,-2.7) (-0.45,-3.4) (-1.75,-4.05) (-2.85,-4.25) (-3.15,-3.1) (-2.85,-1.5) (-3.0,0.1) (-2.75,1.2) (-3.1,2.05) (-3.3,3.05) (-3.1,3.65)};
\addplot[outl] table {\oE};
\addplot[isl] coordinates {(-5.4,-11.8) (-5.0,-11.3) (-4.5,-11.5) (-4.6,-12.2) (-5.2,-12.3) (-5.4,-11.8)};
\addplot[isl] coordinates {(-3.3,-10.2) (-2.8,-9.8) (-2.3,-10.2) (-2.6,-10.7) (-3.1,-10.6) (-3.3,-10.2)};
\addplot[isl] coordinates {(-1.0,-11.0) (-0.2,-10.6) (0.8,-10.9) (0.5,-11.5) (-0.3,-11.6) (-1.0,-11.0)};
\addplot[isl] coordinates {(0.0,-12.2) (0.4,-11.9) (0.8,-12.3) (0.4,-12.7) (0.0,-12.2)};
\addplot[isl] coordinates {(-2.0,-12.6) (-1.6,-12.3) (-1.3,-12.7) (-1.7,-13.0) (-2.0,-12.6)};
\addplot[isl] coordinates {(-4.3,-12.0) (-3.9,-11.7) (-3.6,-12.1) (-4.0,-12.4) (-4.3,-12.0)};
\addplot[isl] coordinates {(10.5,-7.8) (10.8,-7.55) (11.1,-7.8) (10.8,-8.05) (10.5,-7.8)};
\addplot[isl] coordinates {(-4.0,4.2) (-3.6,4.6) (-3.2,4.3) (-3.6,4.0) (-4.0,4.2)};
\addplot[isl] coordinates {(-7.8,-6.4) (-7.3,-6.1) (-6.8,-6.5) (-7.3,-6.8) (-7.8,-6.4)};
\addplot[pts] coordinates {(-10.2,-5.0) (-9.5,-5.8) (-6.3,-10.0) (-5.7,-10.3) (-5.0,-13.1) (3.8,-6.0) (7.5,-9.7) (12.3,-5.3) (-4.6,3.1)};
\end{axis}

% ===================== F
\smallpanel{at={(447pt,-562pt)},width=81pt,height=69pt,rngF,title={Tetraploid}}{\oF}{\iF}{\dF}
 {(-3.5,1.5) (-2,2.8) (0.5,2.6) (2.5,1.5) (3.6,0.2) (2.5,-1.2) (0,-1.8) (-2.5,-1.6) (-3.6,-0.3) (-3.5,1.5)}
 {(-2.4,1.2) (-1.2,1.8) (-0.2,1.0) (-0.5,-0.4) (-1.5,-0.8) (-2.4,-0.2) (-2.4,1.2)}
\smallpanel{at={(447pt,-676pt)},width=81pt,height=69pt,rngF,title={Octoploid}}{\oF}{\iF}{\lF}
 {(-2.5,2.6) (-1,3.8) (1.5,3.7) (3.2,2.3) (2.5,0.2) (0.5,-1.5) (-1.5,-1.5) (-2.6,0.5) (-2.5,2.6)}
 {(-0.6,2.6) (0.5,3.2) (1.4,2.5) (1.0,1.2) (0,0.9) (-0.8,1.6) (-0.6,2.6)}
\begin{axis}[bigax,rngF,at={(573pt,-566pt)},width=196pt,height=180pt,legend style={xshift=8pt,yshift=18pt},xlabel style={yshift=-25pt}]
\addplot[rdk] table {\dF}; \addlegendentry{Tetraploid}
\addplot[rlt] table {\lF}; \addlegendentry{Octoploid}
\addplot[rov] coordinates {(-2.9,0.65) (-2.55,1.6) (-1.3,1.9) (-0.1,1.75) (1.15,1.15) (2.0,0.65) (3.0,0.25) (2.45,-0.4) (2.0,-1.15) (0.75,-1.55) (-0.9,-2.05) (-1.95,-2.15) (-2.5,-1.45) (-2.3,-0.5) (-2.9,0.65)}; \addlegendentry{Overlap}
\addplot[dsh] coordinates {(-3.4,1.3) (-3.05,2.6) (-2.15,3.15) (-0.9,3.0) (0.35,3.15) (2.0,2.85) (3.2,2.2) (3.4,1.15) (4.05,0) (4.65,-1.15) (5.05,-2.3) (4.85,-3.3) (3.4,-3.2) (2.6,-2.25) (1.55,-2.55) (0.75,-2.9) (-0.9,-3.4) (-2.55,-3.45) (-3.3,-2.9) (-3.6,-1.45) (-3.9,0) (-3.65,0.9) (-3.4,1.3)};
\addplot[outl] table {\oF};
\addplot[isl] coordinates {(-10.4,-5.2) (-10.1,-4.9) (-9.9,-5.3) (-10.2,-5.5) (-10.4,-5.2)};
\addplot[isl] coordinates {(-9.4,-6.2) (-9.0,-5.9) (-8.7,-6.3) (-9.1,-6.6) (-9.4,-6.2)};
\addplot[isl] coordinates {(-4.5,-10.9) (-4.1,-10.6) (-3.7,-10.9) (-4.1,-11.2) (-4.5,-10.9)};
\addplot[isl] coordinates {(-5.3,-11.9) (-4.9,-11.5) (-4.5,-11.9) (-4.9,-12.2) (-5.3,-11.9)};
\addplot[isl] coordinates {(-6.3,-12.3) (-6.0,-11.9) (-5.7,-12.4) (-6.0,-12.8) (-6.3,-12.3)};
\addplot[isl] coordinates {(-1.6,-11.2) (-0.9,-10.8) (-0.2,-11.3) (-0.9,-11.8) (-1.6,-11.2)};
\addplot[isl] coordinates {(-2.4,-10.1) (-1.9,-9.8) (-1.5,-10.2) (-1.9,-10.5) (-2.4,-10.1)};
\addplot[isl] coordinates {(9.35,-8.0) (9.6,-7.75) (9.85,-8.0) (9.6,-8.25) (9.35,-8.0)};
\addplot[isl] coordinates {(7.1,-6.65) (7.35,-6.4) (7.6,-6.65) (7.35,-6.9) (7.1,-6.65)};
\addplot[isl] coordinates {(-8.5,-7.0) (-7.8,-6.8) (-7.0,-7.2) (-6.6,-7.8) (-7.2,-7.9) (-8.0,-7.5) (-8.5,-7.0)};
\addplot[pts] coordinates {(-2.8,1.8) (-4.5,4.8) (8.0,-4.7) (11.5,-5.5) (-10.2,-3.3) (2.5,-8.0) (3.4,-8.8) (5.8,-8.8) (-9.0,-9.6) (-5.5,-9.6) (0.4,-11.5) (-2.3,-12.5)};
\end{axis}

% ===================== G
\smallpanel{at={(49pt,-811pt)},width=81pt,height=69pt,rngG,title={Tetraploid}}{\oG}{\iG}{\dG}
 {(-3.5,1.2) (-1.5,2.0) (1.5,1.5) (2.8,0.8) (2.5,-1.2) (0,-2.2) (-2.5,-2.2) (-3.6,-0.5) (-3.5,1.2)}
 {(-2.8,0.8) (-1.6,1.3) (-0.6,0.6) (-0.8,-0.8) (-1.9,-1.2) (-2.8,-0.4) (-2.8,0.8)}
\smallpanel{at={(47pt,-935pt)},width=80pt,height=68pt,rngG,title={Decaploid}}{\oG}{\iG}{\lG}
 {(-1.5,1.5) (-0.5,2.8) (0.5,2.4) (1.8,1.0) (2.2,-0.3) (1.2,-1.6) (-0.5,-1.8) (-1.8,-0.5) (-1.5,1.5)}
 {(-0.8,0.6) (0.2,1.2) (1.0,0.6) (0.9,-0.6) (0,-1.0) (-0.8,-0.4) (-0.8,0.6)}
\begin{axis}[bigax,rngG,at={(166pt,-832pt)},width=195pt,height=174pt,legend style={xshift=11pt,yshift=26pt},xlabel style={yshift=-25pt}]
\addplot[rdk] table {\dG}; \addlegendentry{Tetraploid}
\addplot[rlt] table {\lG}; \addlegendentry{Decaploid}
\addplot[rov] coordinates {(-1.3,0.85) (-0.95,1.4) (-0.7,1.9) (0,1.7) (0.95,1.4) (1.75,0.95) (2.65,0.5) (3.0,-0.15) (2.45,-0.7) (1.7,-1.05) (1.25,-1.55) (0.75,-1.7) (0.4,-1.55) (-0.2,-1.05) (-1.15,-0.5) (-1.5,0) (-1.3,0.85)}; \addlegendentry{Overlap}
\addplot[dsh] coordinates {(-3.6,-0.15) (-3.0,1.4) (-2.1,2.05) (-1.15,2.6) (-0.85,2.95) (0.2,3.0) (1.7,2.85) (2.85,2.5) (3.6,1.8) (3.95,0.85) (4.5,0.15) (5.45,-0.5) (6.05,-1.4) (5.65,-2.25) (4.35,-2.95) (2.85,-3.15) (0.95,-2.95) (-0.55,-2.85) (-2.1,-2.95) (-3.2,-2.75) (-3.75,-1.9) (-3.6,-0.15)};
\addplot[outl] table {\oG};
\addplot[isl] coordinates {(-9.5,-6.4) (-9.25,-6.1) (-9.0,-6.4) (-9.25,-6.7) (-9.5,-6.4)};
\addplot[isl] coordinates {(-8.5,-6.5) (-7.8,-6.4) (-7.0,-6.9) (-7.2,-7.3) (-8.0,-7.2) (-8.5,-6.5)};
\addplot[isl] coordinates {(-7.2,-8.3) (-7.0,-8.1) (-6.8,-8.4) (-7.0,-8.7) (-7.2,-8.3)};
\addplot[isl] coordinates {(-1.6,-9.8) (-1.3,-9.6) (-0.9,-9.8) (-1.3,-10.0) (-1.6,-9.8)};
\addplot[isl] coordinates {(-4.7,-11.5) (-3.8,-11.0) (-2.9,-10.9) (-2.0,-11.2) (-1.0,-11.0) (0.2,-11.2) (0.4,-11.8) (-0.5,-12.0) (-1.8,-11.7) (-2.9,-11.5) (-3.8,-11.6) (-4.6,-11.9) (-4.7,-11.5)};
\addplot[isl] coordinates {(-5.1,-12.7) (-4.9,-12.3) (-4.6,-12.7) (-4.9,-13.1) (-5.1,-12.7)};
\addplot[isl] coordinates {(-3.6,-12.6) (-3.3,-12.4) (-3.0,-12.7) (-3.3,-12.9) (-3.6,-12.6)};
\addplot[isl] coordinates {(9.0,-6.8) (9.25,-6.55) (9.5,-6.8) (9.25,-7.05) (9.0,-6.8)};
\addplot[isl] coordinates {(6.1,-6.7) (6.3,-6.1) (6.5,-6.7) (6.3,-7.1) (6.1,-6.7)};
\addplot[isl] coordinates {(-4.5,0.5) (-4.15,0.85) (-3.8,0.5) (-4.15,0.15) (-4.5,0.5)};
\addplot[pts] coordinates {(-3.9,3.0) (-9.8,-5.3) (-7.0,-9.6) (-6.2,-10.0) (-5.0,-10.5) (-4.5,-9.7) (-3.5,-9.9) (-2.0,-9.6) (-1.5,-12.5) (0.4,-12.9) (0.8,-8.0) (1.9,-8.9) (3.3,-8.9) (4.1,-7.6) (6.6,-8.0) (7.0,-6.9) (10.5,-4.3) (11.5,-2.5)};
\end{axis}

% ===================== H
\smallpanel{at={(442pt,-815pt)},width=75pt,height=67pt,rngH,title={Hexaploid}}{\oH}{\iH}{\dH}
 {(-4,-0.5) (-2,1.2) (-1,3.5) (0.2,4.2) (1.5,3) (3,1.5) (3.4,0) (2.5,-1.5) (0.5,-1.8) (-2.5,-2.0) (-4.6,-1.5) (-4,-0.5)}
 {(0.2,1.4) (1.2,1.9) (2.1,1.0) (1.8,-0.2) (0.8,-0.6) (0.1,0.2) (0.2,1.4)}
\smallpanel{at={(443pt,-926pt)},width=74pt,height=70pt,rngH,title={Octoploid}}{\oH}{\iH}{\lH}
 {(-3.8,0.2) (-2,1.8) (0.5,2.4) (3,1.8) (4.3,0) (3,-1.8) (0.5,-2.4) (-2,-1.8) (-3.8,0.2)}
 {(-1.2,0.6) (0.5,1.1) (2.0,0.6) (2.0,-0.6) (0.5,-1.0) (-1.2,-0.6) (-1.2,0.6)}
\begin{axis}[bigax,rngH,at={(569pt,-831pt)},width=194pt,height=175pt,legend style={xshift=13pt,yshift=25pt},xlabel style={yshift=-25pt}]
\addplot[rdk] table {\dH}; \addlegendentry{Hexaploid}
\addplot[rlt] table {\lH}; \addlegendentry{Octoploid}
\addplot[rov] coordinates {(-3.75,-0.75) (-3.5,0.2) (-2.75,1.15) (-1.9,2.1) (-1.0,2.55) (-0.15,2.7) (1.3,2.65) (2.6,2.35) (3.35,1.7) (3.5,0.75) (3.2,-0.4) (2.9,-1.45) (2.3,-2.1) (1.6,-2.45) (0.45,-2.55) (-0.7,-2.5) (-1.9,-2.35) (-2.75,-2.1) (-3.5,-1.6) (-3.75,-0.75)}; \addlegendentry{Overlap}
\addplot[dsh] coordinates {(-4.7,-1.9) (-4.5,-0.55) (-3.6,0.2) (-2.45,1.3) (-1.6,2.45) (-1.0,4.35) (-0.6,4.9) (0.15,5.1) (0.6,4.7) (0.7,3.75) (0.8,2.95) (1.9,2.45) (3.05,1.95) (3.5,0.75) (3.35,-0.75) (2.45,-1.9) (1.3,-2.45) (0.45,-2.65) (0.2,-3.4) (-0.1,-4.15) (-0.3,-3.0) (-1.6,-2.85) (-2.75,-3.0) (-3.9,-2.9) (-4.65,-2.45) (-4.7,-1.9)};
\addplot[outl] table {\oH};
\addplot[isl] coordinates {(-7.1,6.8) (-6.7,7.8) (-6.5,8.3) (-5.95,8.4) (-5.65,7.9) (-6.2,6.8) (-7.1,6.8)};
\addplot[isl] coordinates {(-1.55,7.35) (-1.3,7.6) (-1.05,7.35) (-1.3,7.1) (-1.55,7.35)};
\addplot[isl] coordinates {(-0.85,7.45) (-0.6,7.7) (-0.35,7.45) (-0.6,7.2) (-0.85,7.45)};
\addplot[isl] coordinates {(4.0,-7.15) (4.2,-6.9) (4.4,-7.15) (4.2,-7.4) (4.0,-7.15)};
\addplot[isl] coordinates {(-7.8,3.0) (-7.55,3.2) (-7.3,3.0) (-7.55,2.8) (-7.8,3.0)};
\addplot[pts] coordinates {(-2.4,7.9) (-9.6,-2.1) (-9.0,-3.5) (-5.5,-3.9) (6.1,-4.5) (2.7,5.2)};
\end{axis}

% ===================== I
\smallpanel{at={(43pt,-1077pt)},width=80pt,height=67pt,rngI,title={Hexaploid}}{\oI}{\iI}{\dI}
 {(-2.8,3.6) (-0.5,4.0) (1.8,3.2) (2.5,1.0) (1.5,-0.8) (-1,-1.5) (-2.5,-3.2) (-3.8,-4.0) (-4,-2) (-3.2,0.5) (-2.8,3.6)}
 {(-0.8,1.8) (0.3,2.5) (1.2,1.8) (1.0,0.4) (0,0) (-0.8,0.6) (-0.8,1.8)}
\smallpanel{at={(39pt,-1200pt)},width=82pt,height=74pt,rngI,title={Decaploid}}{\oI}{\iI}{\lI}
 {(-1,0.8) (0.5,1.8) (2,1.0) (3.6,-0.3) (2.5,-1.5) (1.5,-3.2) (0,-3.4) (-1.2,-2) (-1,0.8)}
 {(0.0,-0.8) (1.0,-0.5) (1.6,-1.4) (1.2,-2.4) (0.3,-2.6) (-0.2,-1.8) (0.0,-0.8)}
\begin{axis}[bigax,rngI,at={(162pt,-1088pt)},width=226pt,height=182pt,legend style={xshift=9pt,yshift=28pt,/tikz/every even column/.append style={column sep=13pt}},xlabel style={yshift=-22pt}]
\addplot[rdk] table {\dI}; \addlegendentry{Hexaploid}
\addplot[rlt] table {\lI}; \addlegendentry{Decaploid}
\addplot[rov] coordinates {(-1.05,-0.15) (-0.75,0.85) (-0.05,1.5) (0.5,1.65) (1.35,1.35) (2.2,1.0) (2.55,0.45) (2.45,-0.55) (2.1,-1.35) (1.35,-1.85) (0.5,-2.0) (-0.2,-2.35) (-0.5,-1.55) (-0.95,-1.0) (-1.05,-0.15)}; \addlegendentry{Overlap}
\addplot[dsh] coordinates {(-3.75,-2.85) (-3.6,-1.5) (-3.35,-0.5) (-3.4,0.5) (-3.05,1.85) (-2.05,2.65) (-0.9,2.85) (0.25,3.0) (1.1,2.65) (1.95,2.35) (2.8,1.85) (3.65,1.65) (4.05,0.85) (3.95,-0.15) (3.4,-1.0) (2.8,-1.25) (2.2,-1.75) (1.7,-2.85) (1.35,-3.55) (0.8,-3.65) (0.5,-3.0) (-0.35,-3.05) (-0.9,-3.5) (-1.75,-3.85) (-2.6,-4.0) (-3.5,-3.85) (-3.75,-2.85)};
\addplot[dsh] coordinates {(-3.05,3.5) (-2.4,4.0) (-1.7,3.6) (-2.2,3.1) (-2.8,3.1) (-3.05,3.5)};
\addplot[outl] table {\oI};
\addplot[isl] coordinates {(6.1,-9.2) (6.8,-8.9) (7.3,-8.7) (7.0,-9.2) (6.4,-9.5) (6.1,-9.2)};
\addplot[isl] coordinates {(-5.45,-7.4) (-5.2,-7.2) (-4.95,-7.45) (-5.2,-7.7) (-5.45,-7.4)};
\addplot[isl] coordinates {(-7.2,-4.6) (-7.0,-4.4) (-6.8,-4.7) (-7.0,-4.9) (-7.2,-4.6)};
\addplot[pts] coordinates {(-3.8,6.0) (-3.3,6.0) (-7.2,-7.25) (-6.1,-7.25) (-3.2,-9.15) (-3.0,-9.7) (-1.0,-10.0) (1.3,-10.3) (-3.1,-8.8) (-3.8,-7.75) (8.9,-2.9)};
\end{axis}

% ===================== J
\smallpanel{at={(443pt,-1076pt)},width=78pt,height=68pt,rngJ,title={Octoploid}}{\oJ}{\iJ}{\dJ}
 {(-3.5,2.0) (-1.5,3.4) (1.5,3.3) (3.3,1.8) (3.0,-0.5) (1,-1.5) (-1,-2.2) (-3.2,-1.0) (-3.5,2.0)}
 {(-1.8,1.6) (-0.4,2.2) (1.0,1.6) (0.8,0.6) (-0.5,0.2) (-1.8,0.8) (-1.8,1.6)}
\smallpanel{at={(441pt,-1192pt)},width=78pt,height=72pt,rngJ,title={Decaploid}}{\oJ}{\iJ}{\lJ}
 {(-2,1.5) (-0.5,2.3) (1.5,1.5) (3.6,-0.8) (2,-2.0) (0.5,-2.8) (-1.5,-2.5) (-2.2,-0.5) (-2,1.5)}
 {(-0.9,-0.2) (0.3,0.3) (1.0,-0.6) (0.7,-1.8) (-0.3,-2.0) (-1.0,-1.1) (-0.9,-0.2)}
\begin{axis}[bigax,rngJ,at={(565pt,-1090pt)},width=206pt,height=186pt,legend style={xshift=19pt,yshift=26pt,font=\legfont\fontsize{10.6}{12}\selectfont,/tikz/every even column/.append style={column sep=6pt}},xlabel style={yshift=-25pt}]
\addplot[rdk] table {\dJ}; \addlegendentry{Octoploid}
\addplot[rlt] table {\lJ}; \addlegendentry{Decaploid}
\addplot[rov] coordinates {(-1.45,0) (-1.25,0.95) (-0.75,1.6) (-0.3,2.2) (0.3,2.15) (1.2,1.85) (1.9,1.25) (2.5,0.65) (2.65,-0.05) (2.05,-0.7) (1.45,-1.2) (1.3,-1.9) (1.05,-2.4) (0.6,-2.5) (0,-2.3) (-0.65,-1.9) (-0.95,-1.1) (-1.3,-0.65) (-1.45,0)}; \addlegendentry{Overlap}
\addplot[dsh] coordinates {(-3.6,-1.6) (-3.45,-0.5) (-3.2,0.65) (-2.05,2.15) (-0.9,2.5) (0.3,2.4) (1.45,2.05) (2.65,1.6) (3.25,0.95) (3.7,0.25) (3.8,-0.4) (3.55,-1.1) (2.95,-1.5) (2.35,-1.9) (1.75,-2.2) (1.55,-2.85) (1.45,-3.35) (0.6,-3.5) (0.2,-3.0) (0,-2.55) (-0.6,-2.4) (-1.75,-2.85) (-2.65,-3.0) (-3.25,-2.55) (-3.55,-1.9) (-3.6,-1.6)};
\addplot[dsh] coordinates {(3.4,-4.1) (4.1,-3.8) (4.8,-4.1) (4.1,-4.4) (3.4,-4.1)};
\addplot[dsh] coordinates {(-2.9,3.8) (-2.35,4.35) (-1.8,3.8) (-2.35,3.3) (-2.9,3.8)};
\addplot[outl] table {\oJ};
\addplot[isl] coordinates {(-8.1,1.3) (-8.1,2.4) (-7.6,3.0) (-7.0,2.5) (-7.2,1.6) (-7.6,1.2) (-8.1,1.3)};
\addplot[isl] coordinates {(-0.9,5.2) (-0.65,5.45) (-0.4,5.2) (-0.65,4.95) (-0.9,5.2)};
\addplot[isl] coordinates {(-7.75,-6.1) (-7.5,-5.85) (-7.25,-6.1) (-7.5,-6.35) (-7.75,-6.1)};
\addplot[isl] coordinates {(-4.05,-7.55) (-3.8,-7.3) (-3.55,-7.55) (-3.8,-7.8) (-4.05,-7.55)};
\addplot[isl] coordinates {(-0.5,-8.75) (-0.3,-8.3) (-0.1,-8.75) (-0.3,-9.1) (-0.5,-8.75)};
\addplot[isl] coordinates {(0.95,-8.75) (1.2,-8.5) (1.45,-8.75) (1.2,-9.0) (0.95,-8.75)};
\addplot[isl] coordinates {(5.8,-8.75) (6.2,-8.55) (6.6,-8.75) (6.2,-9.0) (5.8,-8.75)};
\addplot[isl] coordinates {(5.2,-10.1) (5.5,-9.6) (5.8,-9.7) (5.5,-10.2) (5.2,-10.1)};
\addplot[pts] coordinates {(-8.7,-1.6) (-6.2,-1.8) (-7.6,0.0) (-4.1,5.2) (-3.5,5.8) (-2.0,-8.2) (-1.5,-7.9) (2.0,-7.8) (1.6,-8.0) (-5.0,-9.9) (-1.8,-9.5) (6.4,-3.2) (6.3,-3.4)};
\end{axis}
\end{tikzpicture}
\end{document}
